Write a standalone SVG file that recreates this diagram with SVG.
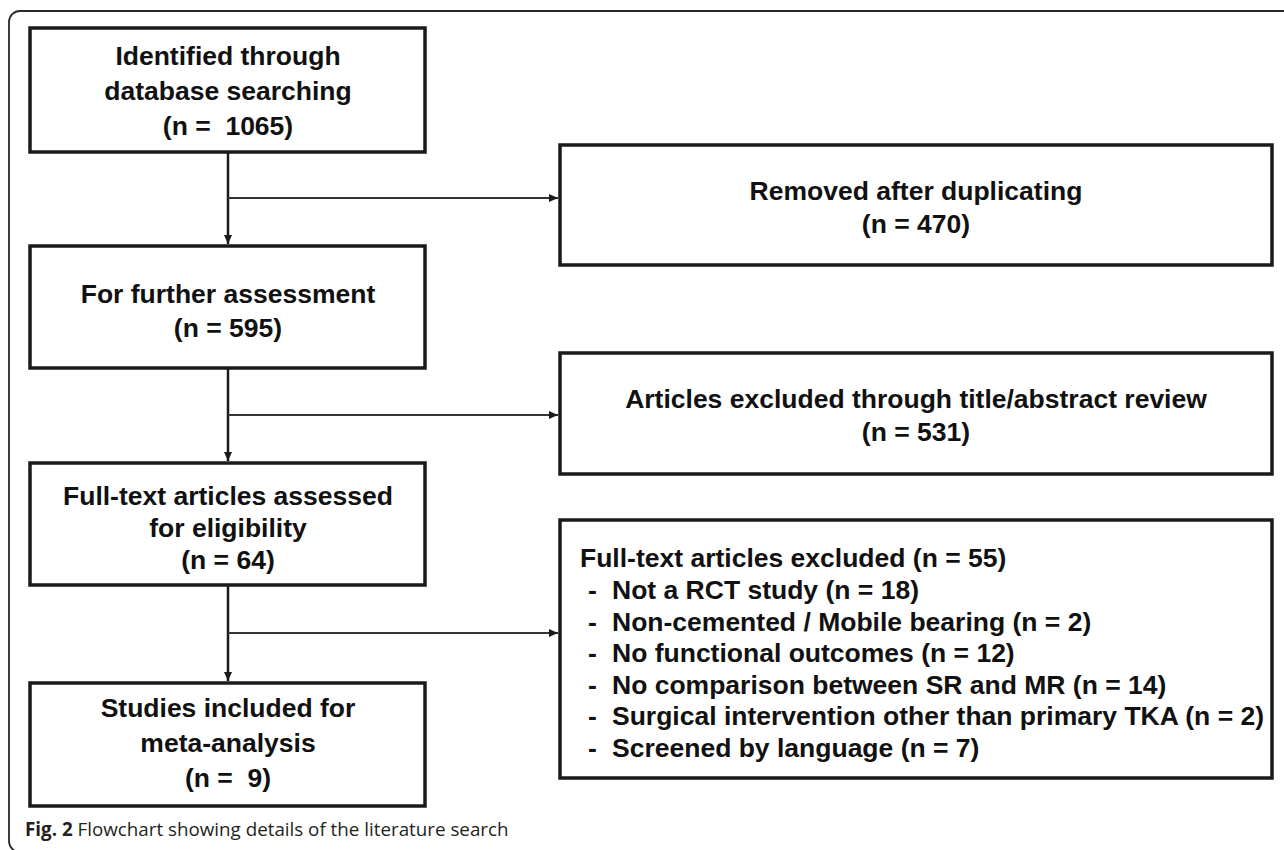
<svg xmlns="http://www.w3.org/2000/svg" width="1284" height="850" viewBox="0 0 1284 850">
<defs>
<style>
.box{fill:#fff;stroke:#1a1a1a;stroke-width:3.5}
.t{font-family:"Liberation Sans",Arial,sans-serif;font-weight:bold;font-size:26.5px;fill:#111}
.c{text-anchor:middle}
.v{stroke:#1a1a1a;stroke-width:2.5;fill:none}
.h{stroke:#333;stroke-width:1.8;fill:none}
.cap{font-family:"Open Sans","Noto Sans",sans-serif;font-size:18.8px;fill:#231f20}
</style>
<marker id="ah" markerUnits="userSpaceOnUse" markerWidth="10" markerHeight="10" refX="9" refY="4" orient="auto">
<path d="M0,0 L9,4 L0,8 Z" fill="#1a1a1a"/>
</marker>
</defs>
<rect width="1284" height="850" fill="#fff"/>
<rect id="frame" x="9" y="11" width="1300" height="841" rx="11" fill="none" stroke="#2a2a2a" stroke-width="1.8"/>

<g id="connectors">
<line class="v" x1="228" y1="152" x2="228" y2="244" marker-end="url(#ah)"/>
<line class="h" x1="228" y1="198" x2="558" y2="198" marker-end="url(#ah)"/>
<line class="v" x1="228" y1="368" x2="228" y2="461" marker-end="url(#ah)"/>
<line class="h" x1="228" y1="415" x2="558" y2="415" marker-end="url(#ah)"/>
<line class="v" x1="228" y1="585" x2="228" y2="681" marker-end="url(#ah)"/>
<line class="h" x1="228" y1="633" x2="558" y2="633" marker-end="url(#ah)"/>
</g>

<g id="identified">
<rect class="box" x="30" y="28" width="395" height="124"/>
<text class="t c" x="228" y="65">Identified through</text>
<text class="t c" x="228" y="100">database searching</text>
<text class="t c" x="228" y="135" xml:space="preserve">(n =  1065)</text>
</g>

<g id="removed">
<rect class="box" x="560" y="145" width="712" height="120"/>
<text class="t c" x="916" y="200">Removed after duplicating</text>
<text class="t c" x="916" y="233">(n = 470)</text>
</g>

<g id="further">
<rect class="box" x="30" y="246" width="395" height="122"/>
<text class="t c" x="228" y="303">For further assessment</text>
<text class="t c" x="228" y="337">(n = 595)</text>
</g>

<g id="excluded-title">
<rect class="box" x="560" y="353" width="712" height="121"/>
<text class="t c" x="916" y="408">Articles excluded through title/abstract review</text>
<text class="t c" x="916" y="441">(n = 531)</text>
</g>

<g id="fulltext">
<rect class="box" x="30" y="463" width="395" height="122"/>
<text class="t c" x="228" y="505">Full-text articles assessed</text>
<text class="t c" x="228" y="537">for eligibility</text>
<text class="t c" x="228" y="569">(n = 64)</text>
</g>

<g id="excluded-full">
<rect class="box" x="560" y="520" width="712" height="258"/>
<text class="t" x="580" y="567">Full-text articles excluded (n = 55)</text>
<text class="t" y="599"><tspan x="588">-</tspan><tspan x="612">Not a RCT study (n = 18)</tspan></text>
<text class="t" y="631"><tspan x="588">-</tspan><tspan x="612">Non-cemented / Mobile bearing (n = 2)</tspan></text>
<text class="t" y="662"><tspan x="588">-</tspan><tspan x="612">No functional outcomes (n = 12)</tspan></text>
<text class="t" y="694"><tspan x="588">-</tspan><tspan x="612">No comparison between SR and MR (n = 14)</tspan></text>
<text class="t" y="725"><tspan x="588">-</tspan><tspan x="612">Surgical intervention other than primary TKA (n = 2)</tspan></text>
<text class="t" y="757"><tspan x="588">-</tspan><tspan x="612">Screened by language (n = 7)</tspan></text>
</g>

<g id="included">
<rect class="box" x="30" y="683" width="395" height="123"/>
<text class="t c" x="228" y="717">Studies included for</text>
<text class="t c" x="228" y="752">meta-analysis</text>
<text class="t c" x="228" y="787" xml:space="preserve">(n =  9)</text>
</g>

<g id="caption">
<text class="cap" x="25" y="836"><tspan font-weight="bold">Fig. 2</tspan> Flowchart showing details of the literature search</text>
</g>
</svg>
